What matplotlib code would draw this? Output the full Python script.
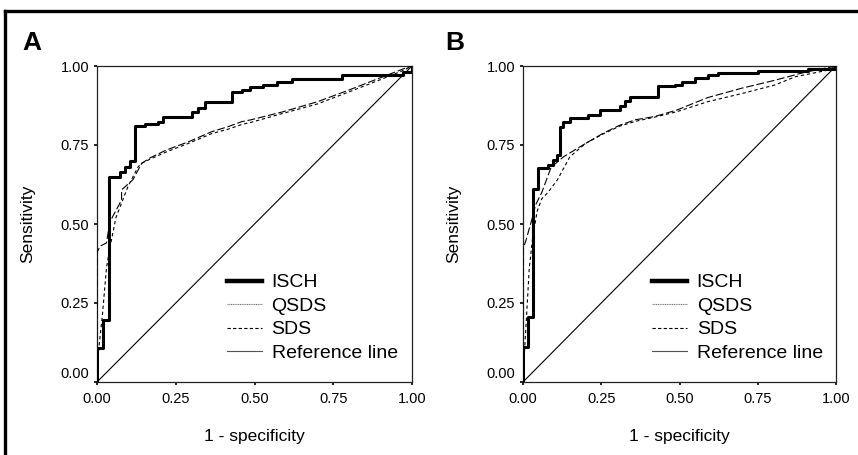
import matplotlib
matplotlib.use("Agg")
import matplotlib.pyplot as plt
import matplotlib.transforms as mtransforms
from matplotlib.lines import Line2D

plt.rcParams["font.family"] = ["Liberation Sans", "DejaVu Sans"]

# Panel A data (1 - specificity, sensitivity)
isch_a_x = [0, 0, 0.019, 0.038, 0.073, 0.089, 0.105, 0.12, 0.152, 0.195, 0.21, 0.30,
            0.32, 0.343, 0.427, 0.46, 0.486, 0.527, 0.57, 0.62, 0.777, 0.97, 1.0]
isch_a_y = [0, 0.107, 0.196, 0.65, 0.665, 0.68, 0.70, 0.81, 0.815, 0.824, 0.84, 0.855,
            0.867, 0.887, 0.918, 0.924, 0.934, 0.94, 0.95, 0.958, 0.971, 0.98, 1.0]
qsds_a_x = [0, 0, 0.01, 0.03, 0.041, 0.078, 0.078, 0.114, 0.142, 0.168, 0.22, 0.29,
            0.364, 0.416, 0.46, 0.49, 0.59, 0.70, 0.80, 0.908, 0.97, 1.0]
qsds_a_y = [0, 0.41, 0.43, 0.44, 0.507, 0.576, 0.608, 0.64, 0.692, 0.709, 0.734, 0.76,
            0.792, 0.808, 0.824, 0.83, 0.855, 0.887, 0.924, 0.966, 0.99, 1.0]
sds_a_x = [0, 0.005, 0.017, 0.03, 0.04, 0.06, 0.098, 0.13, 0.142, 0.168, 0.22, 0.29,
           0.364, 0.416, 0.46, 0.49, 0.59, 0.70, 0.80, 0.908, 0.97, 1.0]
sds_a_y = [0, 0.10, 0.21, 0.36, 0.42, 0.52, 0.618, 0.68, 0.692, 0.705, 0.728, 0.755,
           0.786, 0.80, 0.815, 0.822, 0.85, 0.88, 0.918, 0.96, 0.985, 1.0]

# Panel B data
isch_b_x = [0, 0, 0.017, 0.033, 0.049, 0.081, 0.096, 0.108, 0.118, 0.128, 0.15, 0.208,
            0.246, 0.31, 0.325, 0.342, 0.432, 0.486, 0.507, 0.55, 0.59, 0.623, 0.75,
            0.91, 1.0]
isch_b_y = [0, 0.11, 0.207, 0.61, 0.677, 0.687, 0.703, 0.718, 0.808, 0.824, 0.834, 0.845,
            0.861, 0.875, 0.89, 0.903, 0.937, 0.94, 0.95, 0.962, 0.97, 0.977, 0.985,
            0.99, 1.0]
qsds_b_x = [0, 0, 0.01, 0.03, 0.04, 0.06, 0.075, 0.09, 0.13, 0.20, 0.256, 0.31, 0.36,
            0.42, 0.49, 0.59, 0.70, 0.805, 0.90, 1.0]
qsds_b_y = [0, 0.42, 0.45, 0.52, 0.56, 0.60, 0.64, 0.68, 0.713, 0.755, 0.787, 0.813,
            0.83, 0.84, 0.86, 0.90, 0.93, 0.955, 0.98, 1.0]
sds_b_x = [0, 0.005, 0.012, 0.02, 0.03, 0.045, 0.06, 0.08, 0.11, 0.15, 0.20, 0.256,
           0.31, 0.36, 0.42, 0.49, 0.59, 0.70, 0.805, 0.87, 0.975, 1.0]
sds_b_y = [0, 0.10, 0.22, 0.36, 0.45, 0.54, 0.58, 0.60, 0.64, 0.713, 0.755, 0.785,
           0.81, 0.825, 0.838, 0.855, 0.887, 0.913, 0.94, 0.966, 0.987, 1.0]

ticks = [0, 0.25, 0.5, 0.75, 1.0]
tick_labels = ["0.00", "0.25", "0.50", "0.75", "1.00"]
legend_labels = ["ISCH", "QSDS", "SDS", "Reference line"]

W, H = 858, 455
fig = plt.figure(figsize=(W / 100, H / 100), dpi=100)

# outer frame (top and left visible)
fig.add_artist(Line2D([5 / W, 1], [1 - 11 / H, 1 - 11 / H], lw=2.4, color="black",
                      transform=fig.transFigure))
fig.add_artist(Line2D([5 / W, 5 / W], [0, 1 - 11 / H], lw=2.4, color="black",
                      transform=fig.transFigure))

panels = [
    ("A", 97, 412, (isch_a_x, isch_a_y), (qsds_a_x, qsds_a_y), (sds_a_x, sds_a_y), 22),
    ("B", 523, 836, (isch_b_x, isch_b_y), (qsds_b_x, qsds_b_y), (sds_b_x, sds_b_y), 445),
]

for letter, x0, x1, isch, qsds, sds, letter_x in panels:
    ax = fig.add_axes([x0 / W, (H - 382) / H, (x1 - x0) / W, (382 - 66) / H])
    ax.plot([0, 1], [0, 1], color="black", lw=0.8, zorder=2)
    ax.plot(qsds[0], qsds[1], color="black", lw=0.8, dashes=(7, 2.5), zorder=3)
    ax.plot(sds[0], sds[1], color="black", lw=0.8, dashes=(3, 2.5), zorder=3)
    ax.plot(isch[0], isch[1], color="black", lw=2.2, drawstyle="steps-post", zorder=4)

    ax.set_xlim(0, 1)
    ax.set_ylim(0, 1)
    ax.set_xticks(ticks)
    ax.set_xticklabels(tick_labels)
    ax.set_yticks(ticks)
    ax.set_yticklabels(tick_labels)
    ax.tick_params(direction="out", length=2.5, width=1.2, labelsize=10.5, pad=3)
    ax.tick_params(axis="x", pad=5)
    for sp in ax.spines.values():
        sp.set_linewidth(0.9)
        sp.set_color("#222222")

    # lift the 0.00 label on the y axis
    lab = ax.get_yticklabels()[0]
    lab.set_transform(lab.get_transform()
                      + mtransforms.ScaledTranslation(0, 9 / 100, fig.dpi_scale_trans))

    ax.text(-69 / (x1 - x0), 0.5, "Sensitivity", rotation=90, ha="center", va="center",
            fontsize=12.5, transform=ax.transAxes)
    ax.text(0.5, -(437 - 382) / 316, "1 - specificity", ha="center", va="center",
            fontsize=12.5, transform=ax.transAxes)

    handles = [
        Line2D([], [], color="black", lw=3.2),
        Line2D([], [], color="#777777", lw=0.8, dashes=(1, 0.6)),
        Line2D([], [], color="black", lw=0.8, dashes=(3, 2)),
        Line2D([], [], color="#555555", lw=0.8),
    ]
    ax.legend(handles, legend_labels, loc="center left", bbox_to_anchor=(0.412, 0.203),
              frameon=False, fontsize=14, handlelength=1.8, handletextpad=0.5,
              labelspacing=0.3, borderpad=0, borderaxespad=0)

    fig.text(letter_x / W, 1 - 50 / H, letter, fontsize=19, fontweight="bold",
             ha="left", va="baseline")

fig.savefig("out.png", dpi=100)
